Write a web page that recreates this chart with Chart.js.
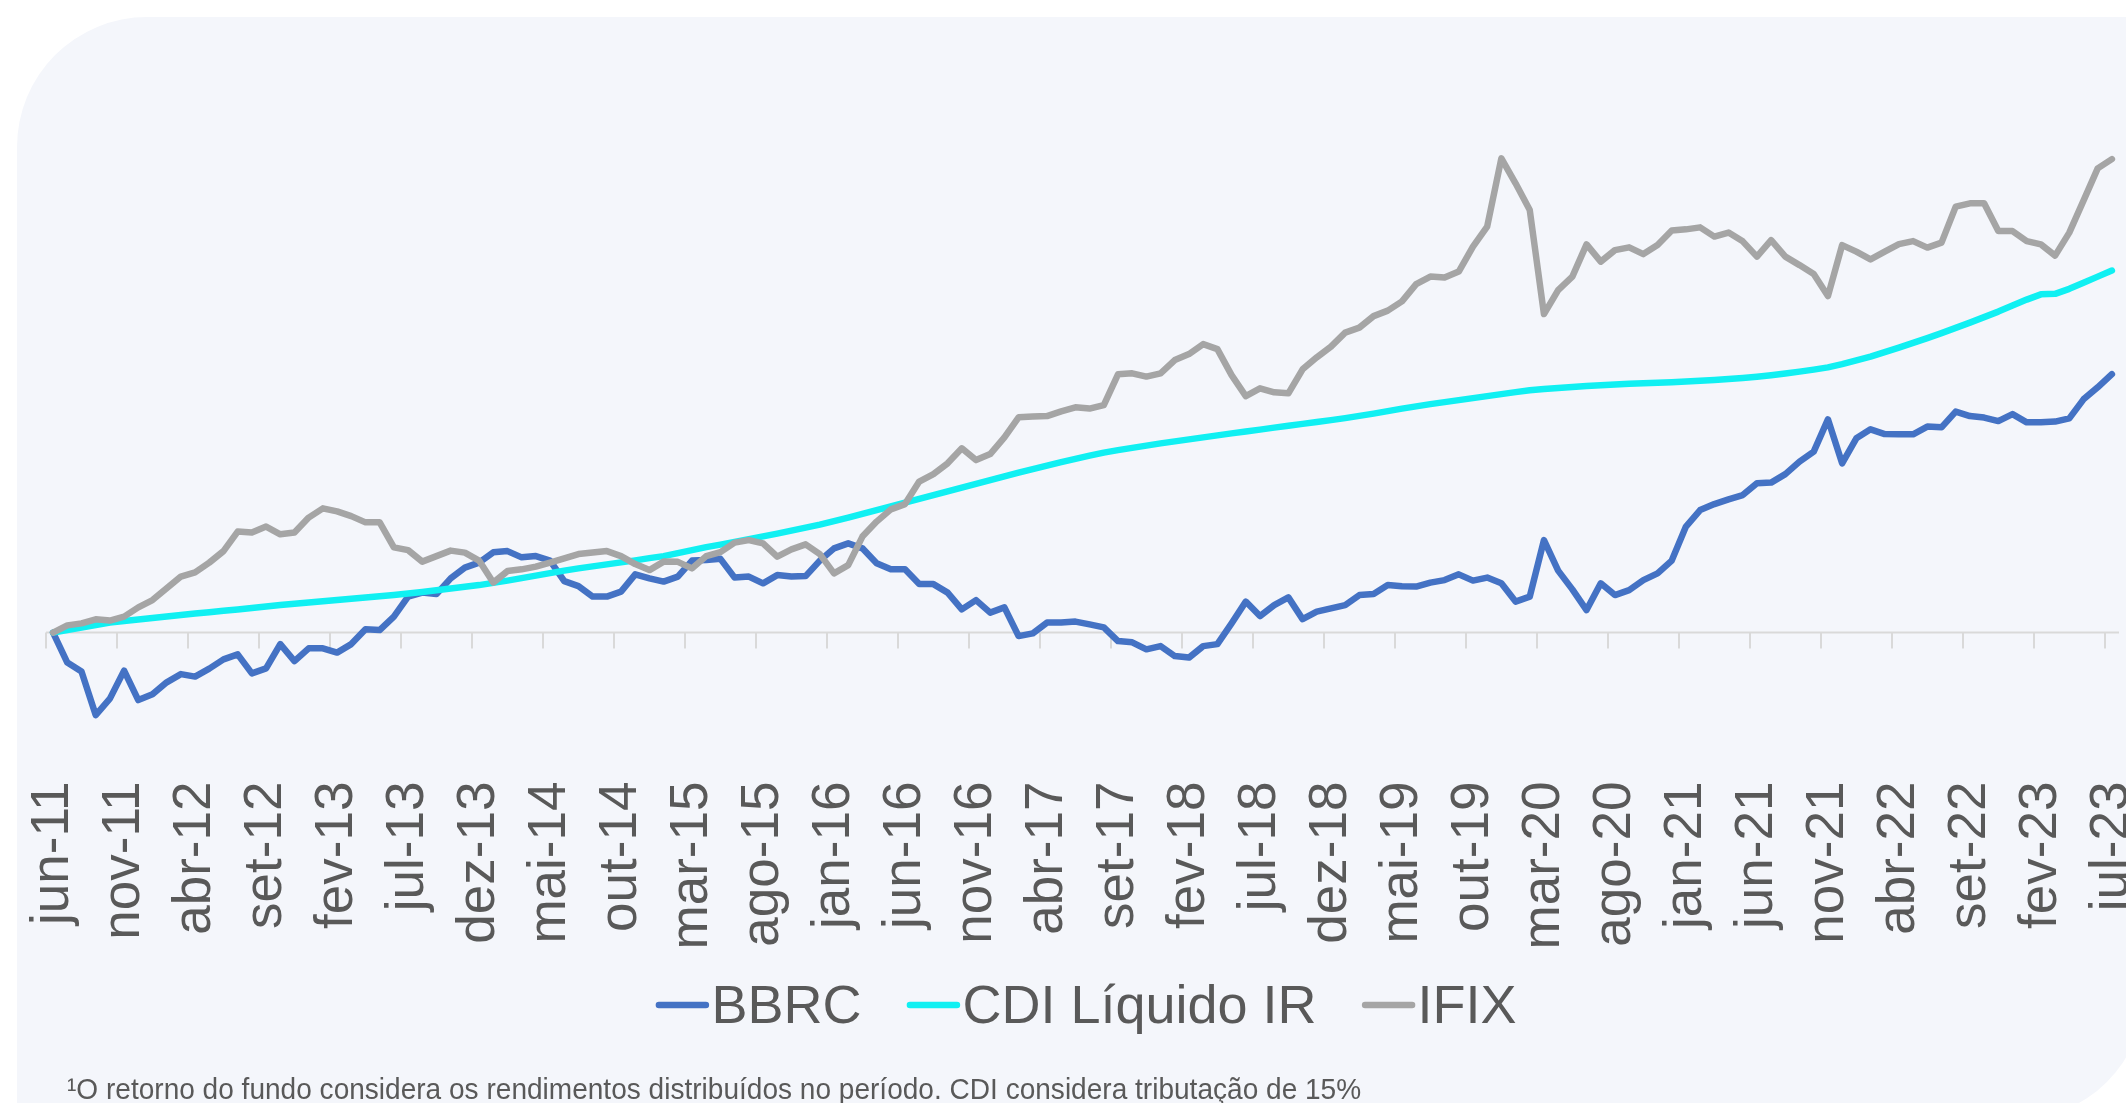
<!DOCTYPE html>
<html lang="pt-BR">
<head>
<meta charset="utf-8">
<title>BBRC x CDI Líquido IR x IFIX</title>
<script src="https://cdn.jsdelivr.net/npm/chart.js@4.4.1/dist/chart.umd.min.js"></script>
<style>
  html, body { margin: 0; padding: 0; background: #fff; width: 2126px; height: 1103px; overflow: hidden; }
  .painel { position: absolute; left: 17px; top: 17px; width: 2128px; height: 1103px; background: #f4f6fb; border-radius: 130px 0 130px 0; }
  #grafico { position: absolute; left: 0; top: 0; }
  .nota { position: absolute; left: 67px; top: 1074px; font: 30px "Liberation Sans", Arial, sans-serif; line-height: 30px; color: #595959; white-space: nowrap; transform: scaleX(0.935); transform-origin: 0 0; }
</style>
</head>
<body>
<div class="painel"></div>
<canvas id="grafico" width="2126" height="1103"></canvas>
<div class="nota">¹O retorno do fundo considera os rendimentos distribuídos no período. CDI considera tributação de 15%</div>

<script>
// retorno acumulado (%) desde jun-11, um valor por mês até jul-23
const bbrc = [
  0, -12.0, -15.6, -33.0, -26.4, -15.2, -27.0, -24.7, -19.9, -16.6,
  -17.6, -14.4, -10.7, -8.7, -16.3, -14.3, -4.6, -11.4, -6.3, -6.3,
  -8.0, -4.6, 1.3, 1.0, 6.4, 14.4, 16.0, 15.4, 21.7, 26.0,
  28.0, 32.1, 32.6, 30.1, 30.6, 28.8, 20.6, 18.6, 14.4, 14.4,
  16.4, 23.3, 21.7, 20.4, 22.4, 28.8, 29.0, 29.5, 22.0, 22.4,
  19.7, 23.0, 22.4, 22.6, 28.8, 33.7, 35.7, 33.7, 27.7, 25.3,
  25.3, 19.4, 19.4, 16.0, 9.3, 13.0, 8.0, 10.1, -1.4, -0.3,
  4.0, 4.0, 4.4, 3.3, 2.1, -3.4, -3.9, -6.7, -5.4, -9.4,
  -10.0, -5.4, -4.6, 3.7, 12.4, 6.6, 11.0, 14.1, 5.4, 8.4,
  9.7, 11.0, 15.0, 15.4, 19.0, 18.5, 18.4, 20.0, 21.0, 23.3,
  20.8, 22.0, 19.7, 12.4, 14.4, 37.0, 24.8, 17.3, 9.0, 19.7,
  15.0, 17.0, 21.0, 23.7, 28.8, 42.4, 49.0, 51.4, 53.3, 55.0,
  59.7, 60.0, 63.4, 68.4, 72.4, 85.3, 67.7, 77.7, 81.3, 79.4,
  79.3, 79.3, 82.4, 82.1, 88.4, 86.6, 86.0, 84.6, 87.4, 84.1,
  84.1, 84.4, 85.7, 93.3, 98.1, 103.4
];

const cdiLiquido = [
  0, 1.0, 2.0, 3.0, 4.0, 4.6, 5.2, 5.8, 6.4, 7.0,
  7.6, 8.1, 8.7, 9.2, 9.8, 10.4, 11.0, 11.5, 12.0, 12.5,
  13.0, 13.5, 14.0, 14.5, 15.0, 15.6, 16.2, 16.9, 17.6, 18.3,
  19.0, 19.9, 20.8, 21.8, 22.8, 23.8, 24.8, 25.7, 26.5, 27.3,
  28.1, 28.9, 29.8, 30.6, 31.8, 33.0, 34.2, 35.2, 36.3, 37.4,
  38.5, 39.6, 40.8, 42.0, 43.2, 44.6, 46.0, 47.5, 49.0, 50.5,
  52.0, 53.5, 55.0, 56.5, 58.0, 59.5, 61.0, 62.5, 64.0, 65.4,
  66.8, 68.2, 69.5, 70.8, 72.0, 73.0, 73.9, 74.8, 75.7, 76.5,
  77.3, 78.1, 78.9, 79.7, 80.4, 81.2, 82.0, 82.7, 83.5, 84.2,
  85.0, 85.8, 86.7, 87.6, 88.6, 89.6, 90.5, 91.4, 92.2, 93.0,
  93.8, 94.6, 95.4, 96.2, 96.9, 97.4, 97.8, 98.2, 98.6, 98.9,
  99.2, 99.5, 99.7, 99.9, 100.1, 100.4, 100.7, 101.0, 101.4, 101.8,
  102.3, 102.9, 103.6, 104.4, 105.2, 106.1, 107.4, 108.9, 110.4, 112.2,
  114.0, 115.9, 117.8, 119.8, 121.9, 124.0, 126.2, 128.4, 130.8, 133.2,
  135.3, 135.5, 137.5, 139.9, 142.4, 144.8
];

const ifix = [
  0, 2.9, 3.7, 5.3, 4.8, 6.4, 10.1, 13.0, 17.7, 22.4,
  24.1, 28.0, 32.6, 40.4, 40.0, 42.4, 39.3, 40.0, 46.0, 49.7,
  48.5, 46.6, 44.1, 44.1, 34.1, 33.0, 28.4, 30.6, 32.8, 32.0,
  28.8, 20.0, 24.6, 25.3, 26.4, 28.0, 29.7, 31.4, 32.0, 32.6,
  30.6, 27.4, 25.0, 28.4, 28.3, 25.7, 30.6, 32.2, 36.0, 37.0,
  35.7, 30.4, 33.3, 35.3, 31.4, 23.7, 27.0, 38.4, 44.4, 49.3,
  51.4, 60.4, 63.4, 67.7, 73.7, 69.0, 71.4, 78.1, 86.1, 86.4,
  86.6, 88.5, 90.1, 89.6, 91.0, 103.3, 103.7, 102.4, 103.7, 109.0,
  111.4, 115.4, 113.4, 103.0, 94.6, 97.7, 96.1, 95.7, 105.3, 110.1,
  114.4, 120.0, 122.0, 126.6, 128.8, 132.5, 139.4, 142.4, 142.0, 144.4,
  154.4, 162.4, 189.7, 179.7, 169.0, 127.4, 137.0, 142.4, 155.3, 148.4,
  153.0, 154.1, 151.4, 155.0, 160.8, 161.3, 162.1, 158.4, 160.0, 156.5,
  150.4, 157.0, 150.4, 147.0, 143.4, 134.6, 155.0, 152.4, 149.3, 152.4,
  155.4, 156.6, 154.0, 156.0, 170.4, 171.7, 171.7, 160.6, 160.6, 156.6,
  155.3, 150.8, 160.0, 172.8, 185.7, 189.4
];

// eixo x: meses de jun-11 a jul-23, rótulo a cada 5 meses
const meses = ['jan', 'fev', 'mar', 'abr', 'mai', 'jun', 'jul', 'ago', 'set', 'out', 'nov', 'dez'];
const mesInicial = 5;   // jun
const anoInicial = 11;
const passoRotulo = 5;
const rotulos = [];
for (let k = 0; k < bbrc.length; k++) {
  const m = mesInicial + k;
  rotulos.push(meses[m % 12] + '-' + (anoInicial + Math.floor(m / 12)));
}

const corTexto = '#595959';
const fonte = '"Liberation Sans", Arial, sans-serif';

// linha do zero com as marcas de divisão (estilo Excel), uma a cada 5 meses
const eixoZero = {
  id: 'eixoZero',
  beforeDatasetsDraw(chart) {
    const { ctx, chartArea, scales: { x, y } } = chart;
    const y0 = y.getPixelForValue(0);
    const meia = (x.getPixelForValue(1) - x.getPixelForValue(0)) / 2;
    ctx.save();
    ctx.strokeStyle = '#d9d9d9';
    ctx.lineWidth = 2;
    ctx.beginPath();
    ctx.moveTo(chartArea.left, y0);
    ctx.lineTo(chartArea.right, y0);
    ctx.stroke();
    for (let i = 0; i < rotulos.length; i += passoRotulo) {
      const px = Math.round(x.getPixelForValue(i) - meia);
      ctx.beginPath();
      ctx.moveTo(px, y0);
      ctx.lineTo(px, y0 + 16);
      ctx.stroke();
    }
    ctx.restore();
  }
};

// legenda desenhada à mão: traço colado ao texto
const legenda = {
  id: 'legenda',
  afterDraw(chart) {
    const { ctx } = chart;
    ctx.save();
    ctx.font = '54px ' + fonte;
    const itens = chart.data.datasets.map(d => ({ texto: d.label, cor: d.borderColor, w: ctx.measureText(d.label).width }));
    const traco = 54, folga = 2, entre = 45;
    const total = itens.reduce((s, it) => s + traco + folga + it.w, 0) + entre * (itens.length - 1);
    let px = 1086 - total / 2;
    itens.forEach(it => {
      ctx.strokeStyle = it.cor;
      ctx.lineWidth = 6.5;
      ctx.lineCap = 'round';
      ctx.beginPath();
      ctx.moveTo(px + 3.5, 1005);
      ctx.lineTo(px + traco - 3.5, 1005);
      ctx.stroke();
      ctx.fillStyle = corTexto;
      ctx.textBaseline = 'alphabetic';
      ctx.fillText(it.texto, px + traco + folga, 1023);
      px += traco + folga + it.w + entre;
    });
    ctx.restore();
  }
};

const serie = (label, data, cor, ordem) => ({
  label, data,
  borderColor: cor,
  backgroundColor: cor,
  borderWidth: 6.5,
  pointRadius: 0,
  tension: 0,
  borderJoinStyle: 'round',
  borderCapStyle: 'round',
  order: ordem
});

new Chart(document.getElementById('grafico'), {
  type: 'line',
  data: {
    labels: rotulos,
    datasets: [
      serie('BBRC', bbrc, '#4472c4', 3),
      serie('CDI Líquido IR', cdiLiquido, '#10f0f2', 2),
      serie('IFIX', ifix, '#a5a5a5', 1)
    ]
  },
  options: {
    responsive: false,
    animation: false,
    devicePixelRatio: 1,
    layout: { padding: { left: 46, right: 7, top: 132.6, bottom: 130.4 } },
    plugins: { legend: { display: false }, tooltip: { enabled: false } },
    scales: {
      x: {
        offset: true,
        grid: { display: false, drawTicks: false },
        border: { display: false },
        ticks: {
          autoSkip: false,
          minRotation: 90,
          maxRotation: 90,
          padding: 9,
          color: corTexto,
          font: { family: fonte, size: 53 },
          callback: (v, i) => (i % passoRotulo === 0 ? rotulos[i] : null)
        },
        afterFit: (scale) => {
          scale.height = 200;
          scale.paddingLeft = 0;
          scale.paddingRight = 0;
        }
      },
      y: { display: false, min: -56, max: 200 }
    }
  },
  plugins: [eixoZero, legenda]
});
</script>
</body>
</html>
